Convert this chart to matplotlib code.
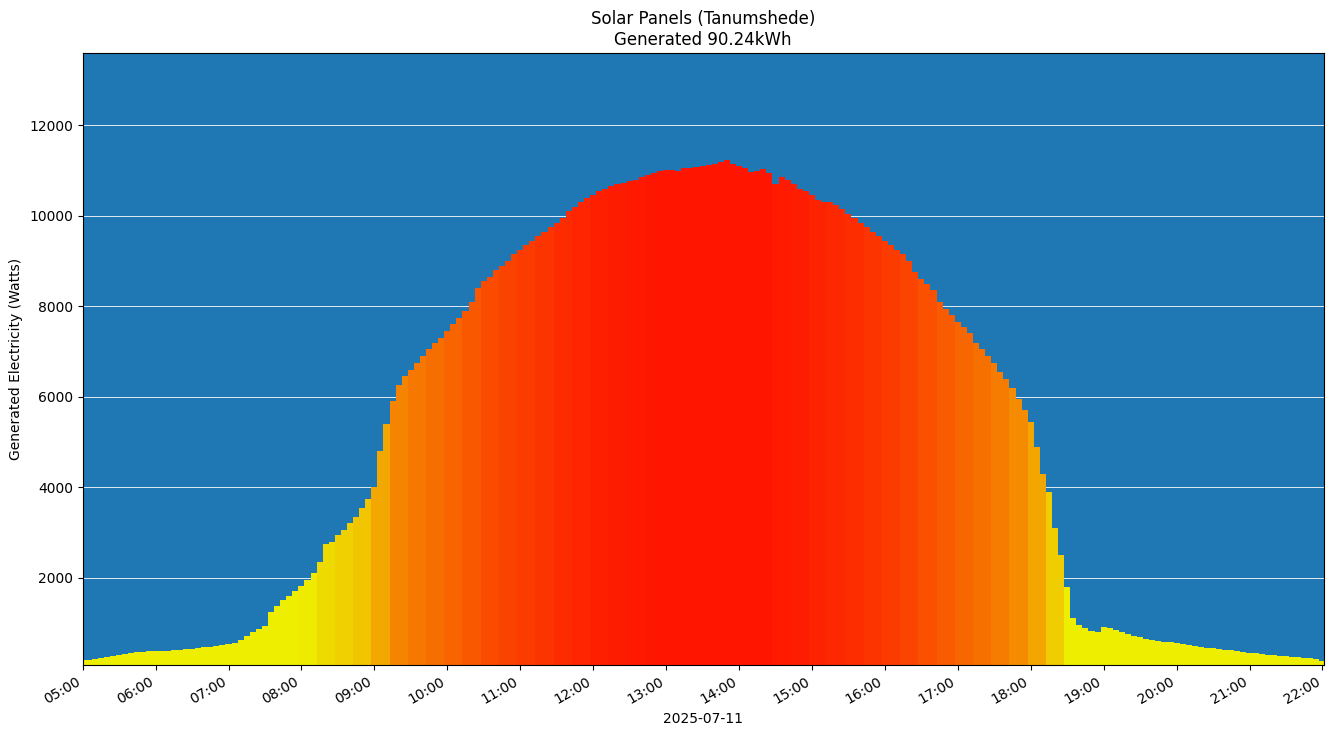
import numpy as np
import matplotlib
matplotlib.use("Agg")
import matplotlib.pyplot as plt
import matplotlib.dates as mdates
from matplotlib.colors import LinearSegmentedColormap, Normalize
import datetime as dt

DAY = "2025-07-11"
START = dt.datetime(2025, 7, 11, 5, 0)
STEP_MIN = 5
# Generated watts, one value every 5 minutes from 05:00 to 22:00
watts = [
    180, 190, 210, 230, 250, 280, 300, 320, 340, 350, 360, 370,
    380, 385, 390, 400, 410, 420, 430, 445, 460, 475, 490, 505,
    530, 560, 620, 720, 800, 870, 940, 1250, 1380, 1500, 1600, 1700,
    1820, 1950, 2100, 2350, 2750, 2800, 2950, 3050, 3200, 3350, 3550, 3750,
    4000, 4800, 5400, 5900, 6250, 6450, 6600, 6750, 6900, 7050, 7200, 7300,
    7450, 7600, 7750, 7900, 8100, 8400, 8550, 8650, 8800, 8900, 9000, 9150,
    9250, 9350, 9450, 9550, 9650, 9750, 9850, 9950, 10100, 10200, 10300, 10400,
    10450, 10550, 10600, 10650, 10700, 10720, 10760, 10800, 10850, 10900, 10950, 11000,
    11020, 11010, 11000, 11050, 11060, 11080, 11100, 11120, 11150, 11200, 11230, 11150,
    11100, 11050, 10970, 11000, 11030, 10950, 10700, 10850, 10800, 10700, 10600, 10550,
    10450, 10350, 10300, 10300, 10250, 10150, 10050, 9950, 9850, 9750, 9650, 9550,
    9450, 9350, 9250, 9150, 9000, 8750, 8600, 8500, 8350, 8100, 7950, 7800,
    7650, 7550, 7400, 7200, 7050, 6900, 6750, 6550, 6400, 6200, 5950, 5700,
    5450, 4900, 4300, 3900, 3100, 2500, 1800, 1100, 950, 880, 820, 800,
    920, 880, 840, 790, 750, 710, 680, 655, 630, 610, 590, 570,
    550, 530, 510, 490, 470, 455, 440, 425, 410, 395, 380, 365,
    345, 330, 315, 300, 288, 277, 266, 256, 246, 236, 225, 210,
    170,
]
TOTAL_KWH = 90.24

times = [START + dt.timedelta(minutes=STEP_MIN * i) for i in range(len(watts))]
w = np.array(watts, dtype=float)

# colour each bar by the mean of its 15-minute block
block = np.arange(len(w)) // 3
block_mean = np.array([w[block == b].mean() for b in block])
cmap = LinearSegmentedColormap.from_list("sun", ["#eeee00", "#f58000", "#ff1500"])
norm = Normalize(vmin=1800, vmax=11000, clip=True)
colors = cmap(norm(block_mean))

fig, ax = plt.subplots(figsize=(13.33, 7.36), dpi=100)
ax.set_facecolor("#1f77b4")
ax.bar(mdates.date2num(times), w, width=STEP_MIN / 1440, color=colors, align="center", zorder=2)
ax.grid(axis="y", color="white", linewidth=0.6, zorder=1)
ax.set_axisbelow(True)
ax.set_ylim(80, 13600)
ax.set_xlim(mdates.date2num(START), mdates.date2num(dt.datetime(2025, 7, 11, 22, 1)))
ax.xaxis.set_major_locator(mdates.HourLocator())
ax.xaxis.set_major_formatter(mdates.DateFormatter("%H:%M"))
ax.set_xlabel(DAY)
ax.set_ylabel("Generated Electricity (Watts)")
ax.set_title(f"Solar Panels (Tanumshede)\nGenerated {TOTAL_KWH}kWh")
fig.autofmt_xdate()
fig.subplots_adjust(left=0.062, right=0.993, top=0.928, bottom=0.097)
fig.savefig("out.png", dpi=100)
